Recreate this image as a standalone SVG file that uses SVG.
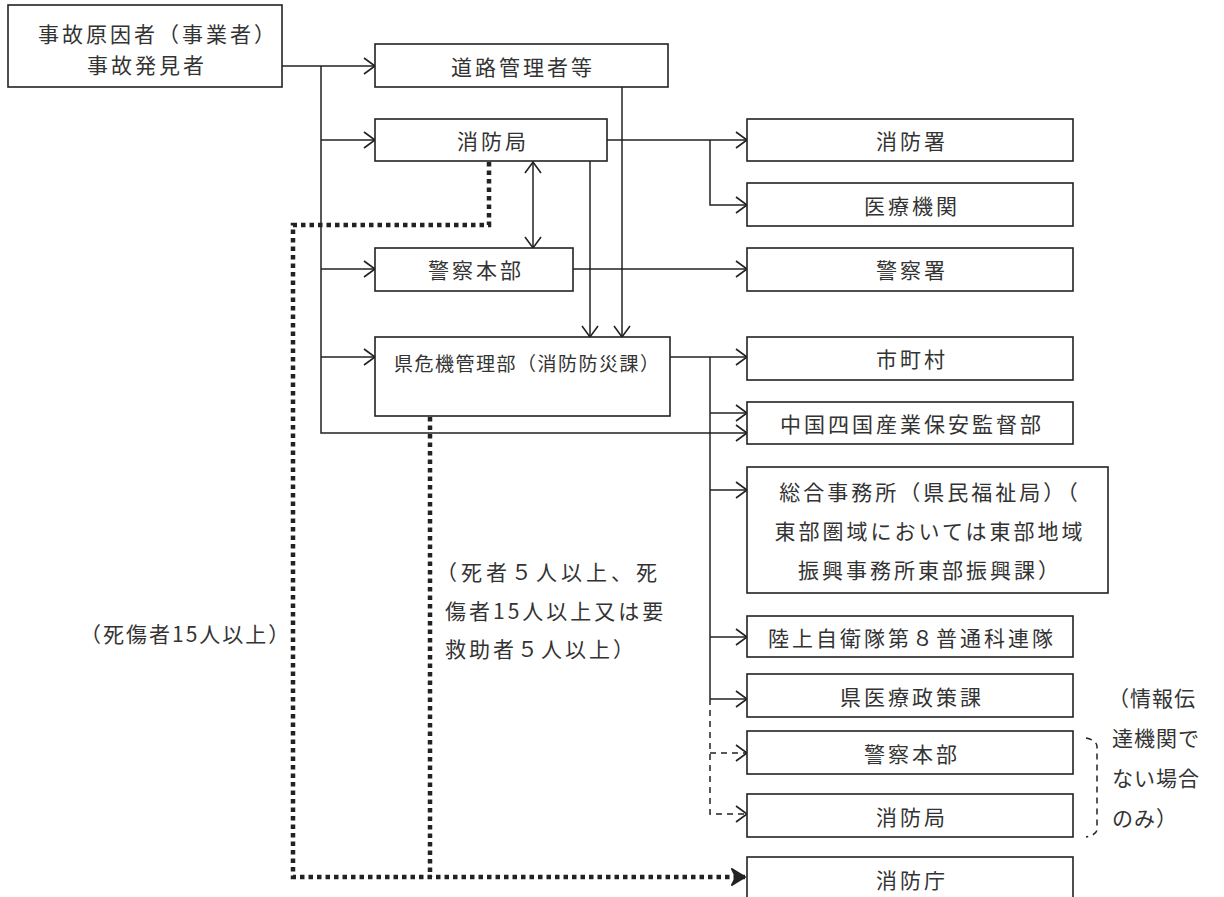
<svg xmlns="http://www.w3.org/2000/svg" width="1224" height="897" viewBox="0 0 1224 897">
<defs>
<style>
.box{fill:#fff;stroke:#222;stroke-width:1.6}
.t{font-family:"Noto Sans CJK JP","Noto Sans",sans-serif;font-size:21px;fill:#333;letter-spacing:3px;dominant-baseline:central}
.c{text-anchor:middle}
.ln{fill:none;stroke:#222;stroke-width:1.5}
.dash{fill:none;stroke:#222;stroke-width:1.5;stroke-dasharray:6 5}
.dot{fill:none;stroke:#222;stroke-width:4.5;stroke-dasharray:4.5 4}
</style>
<marker id="a" markerUnits="userSpaceOnUse" markerWidth="14" markerHeight="20" refX="12" refY="10" orient="auto-start-reverse" viewBox="0 0 14 20">
<path d="M1,2 L12,10 L1,18" fill="none" stroke="#222" stroke-width="1.6"/>
</marker>
<marker id="f" markerUnits="userSpaceOnUse" markerWidth="16" markerHeight="20" refX="14" refY="10" orient="auto" viewBox="0 0 16 20">
<path d="M1,2 L14,10 L1,18 L5,10 Z" fill="#222" stroke="#222" stroke-width="2" stroke-linejoin="round"/>
</marker>
</defs>
<rect width="1224" height="897" fill="#fff"/>
<g id="connectors">
<path class="ln" d="M282,66 H375" marker-end="url(#a)"/>
<path class="ln" d="M321,66 V433 H747" marker-end="url(#a)"/>
<path class="ln" d="M321,140 H375" marker-end="url(#a)"/>
<path class="ln" d="M321,269 H375" marker-end="url(#a)"/>
<path class="ln" d="M321,357 H375" marker-end="url(#a)"/>
<path class="ln" d="M622,87 V337" marker-end="url(#a)"/>
<path class="ln" d="M590,161 V337" marker-end="url(#a)"/>
<path class="ln" d="M533,162 V248" marker-start="url(#a)" marker-end="url(#a)"/>
<path class="ln" d="M607,140 H747" marker-end="url(#a)"/>
<path class="ln" d="M710,140 V205 H747" marker-end="url(#a)"/>
<path class="ln" d="M573,269 H747" marker-end="url(#a)"/>
<path class="ln" d="M670,357 H747" marker-end="url(#a)"/>
<path class="ln" d="M710,357 V699"/>
<path class="ln" d="M710,413 H747" marker-end="url(#a)"/>
<path class="ln" d="M710,490 H747" marker-end="url(#a)"/>
<path class="ln" d="M710,637 H747" marker-end="url(#a)"/>
<path class="ln" d="M710,699 H747" marker-end="url(#a)"/>
<path class="dash" d="M710,699 V814 H747" marker-end="url(#a)"/>
<path class="dash" d="M710,753 H747" marker-end="url(#a)"/>
<path class="dot" d="M489,162 V225 H293 V877 H745" marker-end="url(#f)"/>
<path class="dot" d="M430,417 V877"/>
<path class="dash" d="M1086,738 Q1096,740 1097,746 V830 Q1096,835 1086,837"/>
</g>
<g id="n_source"><rect class="box" x="8" y="5" width="274" height="82"/>
<text class="t c" x="158" y="33">事故原因者（事業者）</text>
<text class="t c" x="147" y="64">事故発見者</text></g>
<g id="n_road"><rect class="box" x="375" y="44" width="293" height="43"/><text class="t c" x="523" y="66">道路管理者等</text></g>
<g id="n_fire"><rect class="box" x="375" y="119" width="232" height="42"/><text class="t c" x="493" y="140">消防局</text></g>
<g id="n_police"><rect class="box" x="375" y="248" width="198" height="43"/><text class="t c" x="476" y="269">警察本部</text></g>
<g id="n_pref"><rect class="box" x="375" y="337" width="295" height="79"/><text class="t" x="394" y="362" style="font-size:19px;letter-spacing:1.5px">県危機管理部（消防防災課）</text></g>
<g id="n_fs"><rect class="box" x="747" y="119" width="326" height="42"/><text class="t c" x="912" y="140">消防署</text></g>
<g id="n_med"><rect class="box" x="747" y="183" width="326" height="43"/><text class="t c" x="912" y="205">医療機関</text></g>
<g id="n_ps"><rect class="box" x="747" y="248" width="326" height="43"/><text class="t c" x="912" y="269">警察署</text></g>
<g id="n_city"><rect class="box" x="747" y="337" width="326" height="43"/><text class="t c" x="912" y="358">市町村</text></g>
<g id="n_chugoku"><rect class="box" x="747" y="402" width="326" height="42"/><text class="t c" x="912" y="423">中国四国産業保安監督部</text></g>
<g id="n_sogo"><rect class="box" x="747" y="467" width="361" height="126"/>
<text class="t c" x="930" y="491">総合事務所（県民福祉局）（</text>
<text class="t c" x="930" y="530">東部圏域においては東部地域</text>
<text class="t c" x="930" y="569">振興事務所東部振興課）</text></g>
<g id="n_jsdf"><rect class="box" x="747" y="616" width="326" height="41"/><text class="t c" x="912" y="637">陸上自衛隊第８普通科連隊</text></g>
<g id="n_medpol"><rect class="box" x="747" y="674" width="326" height="43"/><text class="t c" x="912" y="696">県医療政策課</text></g>
<g id="n_police2"><rect class="box" x="747" y="731" width="326" height="43"/><text class="t c" x="912" y="753">警察本部</text></g>
<g id="n_fire2"><rect class="box" x="747" y="794" width="326" height="43"/><text class="t c" x="912" y="816">消防局</text></g>
<g id="n_fdma"><rect class="box" x="747" y="857" width="326" height="46"/><text class="t c" x="912" y="879">消防庁</text></g>
<g id="labels">
<text class="t" x="80" y="633" style="letter-spacing:2px">（死傷者15人以上）</text>
<text class="t" x="436" y="571" style="letter-spacing:4px">（死者５人以上、死</text>
<text class="t" x="445" y="610">傷者15人以上又は要</text>
<text class="t" x="445" y="648">救助者５人以上）</text>
<text class="t" x="1108" y="697" style="letter-spacing:1px">（情報伝</text>
<text class="t" x="1112" y="737" style="letter-spacing:1px">達機関で</text>
<text class="t" x="1112" y="777" style="letter-spacing:1px">ない場合</text>
<text class="t" x="1112" y="817" style="letter-spacing:1px">のみ）</text>
</g>
</svg>
